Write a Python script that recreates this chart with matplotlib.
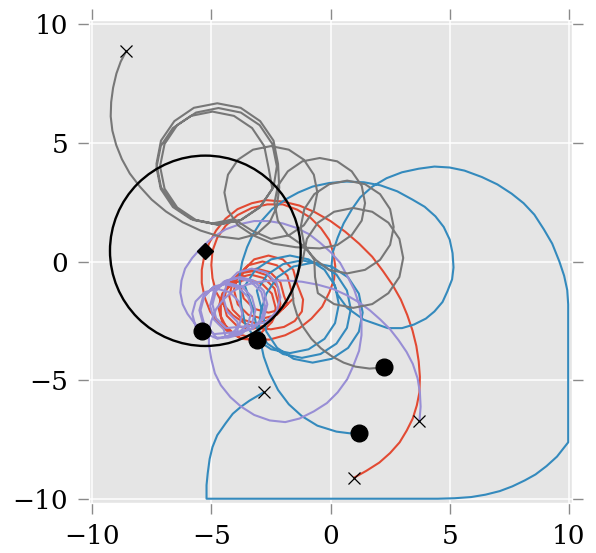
import numpy as np
import matplotlib
matplotlib.use("Agg")
import matplotlib.pyplot as plt
from matplotlib.patches import Circle

# Agent trajectories (x, y), one list per agent, in drawing order.
red_path = [
    (1.0, -9.08), (1.5, -8.8), (2.05, -8.45), (2.5, -8.05), (2.9, -7.6), (3.2, -7.1),
    (3.45, -6.6), (3.62, -6.05), (3.73, -5.5), (3.75, -4.85), (3.7, -4.2), (3.6, -3.55),
    (3.44, -2.9), (3.22, -2.25), (2.95, -1.6), (2.6, -0.98), (2.2, -0.4), (1.75, 0.2),
    (1.2, 0.75), (0.62, 1.25), (0.0, 1.7), (-0.65, 2.07), (-1.3, 2.35), (-2.0, 2.52),
    (-2.7, 2.58), (-3.3, 2.45), (-3.9, 2.2), (-4.4, 1.8), (-4.8, 1.3), (-5.1, 0.75),
    (-5.3, 0.2), (-5.4, -0.35), (-5.4, -0.9), (-5.28, -1.5), (-5.05, -2.1), (-4.7, -2.6),
    (-4.3, -2.95), (-3.8, -3.2), (-3.2, -3.3), (-2.55, -3.28), (-1.9, -3.1), (-1.3, -2.8),
    (-0.8, -2.4), (-0.35, -1.9), (-0.05, -1.3), (0.15, -0.75), (0.2, -0.2), (0.12, 0.35),
    (-0.05, 0.9), (-0.4, 1.4), (-0.85, 1.85), (-1.4, 2.18), (-2.0, 2.4), (-2.65, 2.4),
    (-3.3, 2.25), (-3.9, 1.95), (-4.4, 1.5), (-4.75, 1.0), (-4.95, 0.45), (-5.0, -0.15),
    (-4.95, -0.7), (-4.8, -1.28), (-4.5, -1.8), (-4.1, -2.25), (-3.6, -2.6), (-3.05, -2.8),
    (-2.5, -2.85), (-1.95, -2.75), (-1.5, -2.5), (-1.2, -2.1), (-1.15, -1.6),
    (-1.4, -0.95), (-1.56, -0.35), (-2.0, 0.09), (-2.6, 0.25), (-3.2, 0.09), (-3.64, -0.35),
    (-3.8, -0.95), (-3.64, -1.55), (-3.2, -1.99), (-2.6, -2.15), (-2.0, -1.99), (-1.56, -1.55),
    (-1.65, -1.2), (-1.81, -0.6), (-2.25, -0.16), (-2.85, 0.0), (-3.45, -0.16), (-3.89, -0.6),
    (-4.05, -1.2), (-3.89, -1.8), (-3.45, -2.24), (-2.85, -2.4), (-2.25, -2.24), (-1.81, -1.8),
    (-1.95, -1.45), (-2.1, -0.88), (-2.53, -0.45), (-3.1, -0.3), (-3.68, -0.45), (-4.1, -0.88),
    (-4.25, -1.45), (-4.1, -2.03), (-3.68, -2.45), (-3.1, -2.6), (-2.53, -2.45), (-2.1, -2.03),
    (-2.2, -1.7), (-2.35, -1.13), (-2.78, -0.7), (-3.35, -0.55), (-3.93, -0.7), (-4.35, -1.13),
    (-4.5, -1.7), (-4.35, -2.28), (-3.93, -2.7), (-3.35, -2.85), (-2.78, -2.7), (-2.35, -2.28),
    (-2.3, -1.95), (-2.46, -1.35), (-2.9, -0.91), (-3.5, -0.75), (-4.1, -0.91), (-4.54, -1.35),
    (-4.7, -1.95), (-4.54, -2.55), (-4.1, -2.99), (-3.5, -3.15), (-2.9, -2.99), (-2.46, -2.55),
    (-2.1, -1.8), (-2.2, -1.1), (-2.6, -0.6), (-3.2, -0.4), (-3.8, -0.5), (-4.3, -0.95),
    (-4.6, -1.6), (-4.6, -2.3), (-4.3, -2.9), (-3.75, -3.25), (-3.1, -3.3),
]

blue_path = [
    (-2.81, -5.5), (-3.4, -5.85), (-3.75, -6.1), (-4.1, -6.4), (-4.4, -6.8), (-4.75, -7.3),
    (-4.95, -7.8), (-5.07, -8.3), (-5.15, -8.9), (-5.2, -9.4), (-5.2, -9.97), (-2.0, -9.97),
    (1.0, -9.97), (4.5, -9.97), (5.2, -9.95), (5.9, -9.9), (6.5, -9.8), (7.1, -9.65),
    (7.63, -9.45), (8.15, -9.2), (8.6, -8.95), (9.06, -8.6), (9.5, -8.2), (9.97, -7.6),
    (9.97, -4.5), (9.97, -1.8), (9.93, -1.2), (9.8, -0.6), (9.6, 0.0), (9.3, 0.75),
    (8.95, 1.35), (8.55, 1.97), (8.1, 2.45), (7.6, 2.85), (7.0, 3.24), (6.35, 3.55),
    (5.62, 3.82), (5.0, 3.95), (4.36, 3.99), (3.7, 3.9), (3.0, 3.75), (2.35, 3.5),
    (1.76, 3.15), (1.25, 2.7), (0.9, 2.2), (0.55, 1.6), (0.3, 1.0), (0.1, 0.4),
    (0.04, -0.2), (0.1, -0.8), (0.3, -1.4), (0.7, -1.95), (1.4, -2.45), (2.4, -2.8),
    (3.0, -2.8), (3.5, -2.65), (4.0, -2.4), (4.36, -2.1), (4.7, -1.7), (4.9, -1.26),
    (5.1, -0.75), (5.16, -0.25), (5.12, 0.35), (5.0, 0.92), (4.75, 1.45), (4.4, 1.9),
    (3.95, 2.3), (3.44, 2.6), (2.8, 2.95), (2.1, 3.2), (1.4, 3.33), (0.67, 3.36),
    (-0.05, 3.3), (-0.75, 3.15), (-1.35, 2.9), (-1.9, 2.6), (-2.45, 2.2), (-2.9, 1.7),
    (-3.25, 1.15), (-3.5, 0.6), (-3.7, 0.0), (-3.82, -0.63),
    (-3.75, -1.8), (-3.59, -2.59), (-3.15, -3.25), (-2.49, -3.69), (-1.7, -3.85),
    (-0.92, -3.69), (-0.25, -3.25), (0.19, -2.59), (0.35, -1.8), (0.19, -1.02),
    (-0.25, -0.35), (-0.92, 0.09), (-1.7, 0.25), (-2.49, 0.09), (-3.15, -0.35), (-3.59, -1.02),
    (-3.25, -2.0), (-3.09, -2.79), (-2.65, -3.45), (-1.99, -3.89), (-1.2, -4.05),
    (-0.42, -3.89), (0.25, -3.45), (0.69, -2.79), (0.85, -2.0), (0.69, -1.22),
    (0.25, -0.55), (-0.42, -0.11), (-1.2, 0.05), (-1.99, -0.11), (-2.65, -0.55), (-3.09, -1.22),
    (-2.85, -2.15), (-2.69, -2.95), (-2.24, -3.63), (-1.55, -4.09), (-0.75, -4.25),
    (0.05, -4.09), (0.74, -3.63), (1.19, -2.95), (1.35, -2.15), (1.19, -1.35),
    (0.74, -0.67), (0.05, -0.21), (-0.75, -0.05), (-1.55, -0.21), (-2.24, -0.67), (-2.69, -1.35),
    (-2.92, -2.1), (-3.0, -2.7), (-2.95, -3.3), (-2.8, -4.0), (-2.55, -4.7), (-2.2, -5.4),
    (-1.75, -6.0), (-1.2, -6.5), (-0.55, -6.9), (0.25, -7.15), (0.8, -7.22), (1.2, -7.2),
]

purple_path = [
    (3.73, -6.72), (3.78, -6.1), (3.75, -5.5), (3.65, -4.9), (3.45, -4.3), (3.19, -3.8),
    (2.85, -3.3), (2.5, -2.85), (2.1, -2.45), (1.65, -2.05), (1.2, -1.72), (0.65, -1.4),
    (0.1, -1.15), (-0.55, -0.97), (-1.2, -0.85), (-1.85, -0.8), (-2.5, -0.8), (-3.1, -0.87),
    (-3.6, -1.0), (-4.1, -1.25), (-4.5, -1.6), (-4.8, -2.0), (-5.0, -2.5), (-5.1, -3.0),
    (-5.1, -3.5), (-5.0, -4.1), (-4.85, -4.7), (-4.6, -5.2), (-4.2, -5.7), (-3.75, -6.1),
    (-3.2, -6.45), (-2.55, -6.68), (-1.9, -6.75), (-1.3, -6.6), (-0.7, -6.3), (-0.15, -5.95),
    (0.3, -5.5), (0.7, -4.95), (0.95, -4.4), (1.2, -3.75), (1.3, -3.1), (1.3, -2.45),
    (1.2, -1.8), (1.0, -1.2), (0.7, -0.6), (0.4, -0.05), (0.0, 0.4), (-0.45, 0.8),
    (-0.9, 1.15), (-1.45, 1.42), (-2.0, 1.6), (-2.6, 1.7), (-3.2, 1.7), (-3.8, 1.57),
    (-4.4, 1.35), (-4.95, 1.0), (-5.4, 0.6), (-5.8, 0.15), (-6.1, -0.3), (-6.25, -0.8),
    (-6.3, -1.3), (-6.2, -1.8), (-6.0, -2.2), (-5.7, -2.6), (-5.3, -3.0), (-4.85, -3.2),
    (-4.3, -3.2), (-3.73, -3.05), (-3.3, -2.63), (-3.15, -2.05), (-3.3, -1.48), (-3.73, -1.05),
    (-4.3, -0.9), (-4.88, -1.05), (-5.3, -1.48), (-5.45, -2.05), (-5.3, -2.63), (-4.88, -3.05),
    (-3.8, -2.95), (-3.23, -2.8), (-2.8, -2.38), (-2.65, -1.8), (-2.8, -1.23), (-3.23, -0.8),
    (-3.8, -0.65), (-4.38, -0.8), (-4.8, -1.23), (-4.95, -1.8), (-4.8, -2.38), (-4.38, -2.8),
    (-3.3, -2.7), (-2.7, -2.54), (-2.26, -2.1), (-2.1, -1.5), (-2.26, -0.9), (-2.7, -0.46),
    (-3.3, -0.3), (-3.9, -0.46), (-4.34, -0.9), (-4.5, -1.5), (-4.34, -2.1), (-3.9, -2.54),
    (-3.9, -3.0), (-3.33, -2.85), (-2.9, -2.43), (-2.75, -1.85), (-2.9, -1.28), (-3.33, -0.85),
    (-3.9, -0.7), (-4.48, -0.85), (-4.9, -1.28), (-5.05, -1.85), (-4.9, -2.43), (-4.48, -2.85),
    (-4.4, -3.15), (-3.85, -3.0), (-3.45, -2.6), (-3.3, -2.05), (-3.45, -1.5), (-3.85, -1.1),
    (-4.4, -0.95), (-4.95, -1.1), (-5.35, -1.5), (-5.5, -2.05), (-5.35, -2.6), (-4.95, -3.0),
    (-4.75, -3.25), (-4.23, -3.11), (-3.84, -2.73), (-3.7, -2.2), (-3.84, -1.68), (-4.23, -1.29),
    (-4.75, -1.15), (-5.28, -1.29), (-5.66, -1.68), (-5.8, -2.2), (-5.66, -2.73), (-5.4, -2.9),
]

gray_path = [
    (-8.57, 8.84), (-8.8, 8.4), (-8.98, 7.9), (-9.12, 7.3), (-9.2, 6.7), (-9.22, 6.1),
    (-9.15, 5.5), (-8.99, 4.9), (-8.75, 4.3), (-8.42, 3.7), (-8.0, 3.15), (-7.5, 2.6),
    (-6.9, 2.1), (-6.2, 1.65), (-5.45, 1.3), (-4.65, 1.05), (-3.85, 0.95), (-3.1, 1.15),
    (-2.55, 1.65), (-2.25, 2.3), (-2.15, 3.1),
    (-2.2, 4.1), (-2.39, 5.08), (-2.95, 5.9), (-3.77, 6.46), (-4.75, 6.65), (-5.73, 6.46),
    (-6.55, 5.9), (-7.11, 5.08), (-7.3, 4.1), (-7.11, 3.12), (-6.55, 2.3), (-5.73, 1.74),
    (-4.75, 1.55), (-3.77, 1.74), (-2.95, 2.3), (-2.39, 3.12),
    (-2.25, 4.0), (-2.44, 4.94), (-2.97, 5.73), (-3.76, 6.26), (-4.7, 6.45), (-5.64, 6.26),
    (-6.43, 5.73), (-6.96, 4.94), (-7.15, 4.0), (-6.96, 3.06), (-6.43, 2.27), (-5.64, 1.74),
    (-4.7, 1.55), (-3.76, 1.74), (-2.97, 2.27), (-2.44, 3.06),
    (-2.6, 3.95), (-2.78, 4.85), (-3.29, 5.61), (-4.05, 6.12), (-4.95, 6.3), (-5.85, 6.12),
    (-6.61, 5.61), (-7.12, 4.85), (-7.3, 3.95), (-7.12, 3.05), (-6.61, 2.29), (-5.85, 1.78),
    (-4.95, 1.6), (-4.05, 1.78), (-3.3, 1.3),
    (-2.5, 0.95), (-1.75, 1.1), (-1.12, 1.52), (-0.7, 2.15), (-0.55, 2.9), (-0.7, 3.65),
    (-1.12, 4.28), (-1.75, 4.7), (-2.5, 4.85), (-3.25, 4.7), (-3.88, 4.28), (-4.3, 3.65),
    (-4.45, 2.9), (-4.3, 2.15), (-3.88, 1.52), (-3.25, 1.1), (-2.4, 0.75), (-1.45, 0.6),
    (-0.45, 0.55), (0.28, 0.69), (0.89, 1.11), (1.31, 1.72), (1.45, 2.45), (1.31, 3.18),
    (0.89, 3.79), (0.28, 4.21), (-0.45, 4.35), (-1.18, 4.21), (-1.79, 3.79), (-2.21, 3.18),
    (-2.35, 2.45), (-2.21, 1.72), (-1.79, 1.11), (-1.18, 0.69), (-0.6, 0.05),
    (-0.05, -0.35), (0.7, -0.5), (1.45, -0.35), (2.08, 0.07), (2.5, 0.7), (2.65, 1.45),
    (2.5, 2.2), (2.08, 2.83), (1.45, 3.25), (0.7, 3.4), (-0.05, 3.25), (-0.68, 2.83),
    (-1.1, 2.2), (-1.25, 1.45), (-1.1, 0.7), (-0.68, 0.07), (-0.65, -0.65),
    (-0.53, -1.33), (0.15, -1.79), (0.95, -1.95), (1.75, -1.79), (2.43, -1.33), (2.89, -0.65),
    (3.05, 0.15), (2.89, 0.95), (2.43, 1.63), (1.75, 2.09), (0.95, 2.25), (0.15, 2.09),
    (-0.53, 1.63), (-0.99, 0.95), (-1.15, 0.15), (-1.4, -0.55), (-1.6, -1.2), (-1.55, -1.75),
    (-1.4, -2.25), (-1.15, -2.75), (-0.8, -3.25), (-0.4, -3.65), (0.05, -3.98), (0.55, -4.25),
    (1.05, -4.42), (1.64, -4.5), (2.26, -4.45),
]

paths = [red_path, blue_path, purple_path, gray_path]
colors = ["#E24A33", "#348ABD", "#988ED5", "#777777"]

# Target and its sensing circle
target = (-5.25, 0.45)
sense_radius = 4.0

ticks = [-10, -5, 0, 5, 10]

plt.style.use("ggplot")
plt.rcParams["font.family"] = "DejaVu Serif"

fig = plt.figure(figsize=(5.96, 5.53), dpi=100)
ax = fig.add_axes([89 / 596, 50 / 553, 483 / 596, 483 / 553])

for path, color in zip(paths, colors):
    xy = np.array(path)
    ax.plot(xy[:, 0], xy[:, 1], color=color, lw=1.5, zorder=2)

ax.add_patch(Circle(target, sense_radius, fill=False, ec="black", lw=1.7, zorder=4))
ax.plot(target[0], target[1], marker="D", color="black", ms=8, zorder=5)

starts = np.array([p[0] for p in paths])
ends = np.array([p[-1] for p in paths])
ax.plot(starts[:, 0], starts[:, 1], "x", color="black", ms=8, mew=0.9, zorder=5)
ax.plot(ends[:, 0], ends[:, 1], "o", color="black", ms=12, zorder=5)

ax.set_xlim(-10.13, 10.13)
ax.set_ylim(-10.15, 10.15)
ax.set_xticks(ticks)
ax.set_yticks(ticks)
ax.grid(True, color="white", lw=1.1)
ax.tick_params(direction="out", length=8, width=1, colors="#8a8a8a",
               labelcolor="black", labelsize=19, pad=7, top=True, right=True)

fig.savefig("out.png", dpi=100)
